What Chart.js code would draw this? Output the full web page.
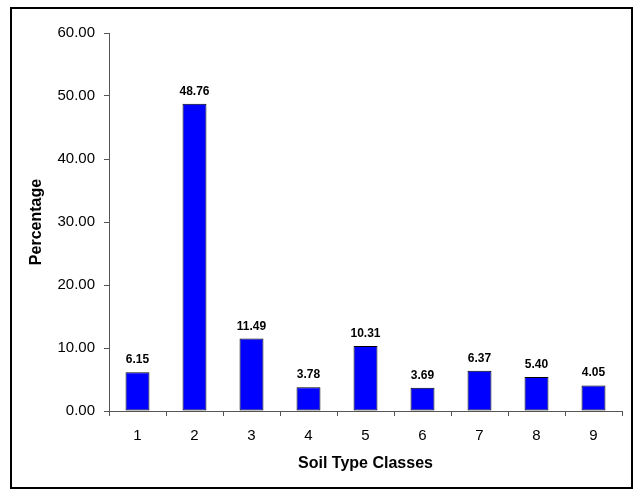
<!DOCTYPE html>
<html>
<head>
<meta charset="utf-8">
<script src="https://cdn.jsdelivr.net/npm/chart.js@4/dist/chart.umd.min.js"></script>
<style>
  html, body { margin: 0; padding: 0; background: #fff; }
  #wrap { width: 636px; height: 496px; }
</style>
</head>
<body>
<div id="wrap"><canvas id="myChart" width="636" height="496"></canvas></div>
<script>
'use strict';

// data
var classes = ['1', '2', '3', '4', '5', '6', '7', '8', '9'];
var percentages = [6.15, 48.76, 11.49, 3.78, 10.31, 3.69, 6.37, 5.40, 4.05];
var yTicks = [0, 10, 20, 30, 40, 50, 60];

var FONT = "'Liberation Sans', Arial, sans-serif";

// outer frame + white background
var framePlugin = {
    id: 'frame',
    beforeDraw: function (chart) {
        var ctx = chart.ctx;
        ctx.save();
        ctx.fillStyle = '#fff';
        ctx.fillRect(0, 0, chart.width, chart.height);
        ctx.lineWidth = 2;
        ctx.strokeStyle = '#000';
        ctx.strokeRect(11, 8, 621, 480);
        ctx.restore();
    }
};

// value labels above the bars
var valuePlugin = {
    id: 'values',
    afterDatasetsDraw: function (chart) {
        var ctx = chart.ctx;
        var meta = chart.getDatasetMeta(0);
        ctx.save();
        ctx.font = 'bold 12px ' + FONT;
        ctx.fillStyle = '#000';
        ctx.textAlign = 'center';
        ctx.textBaseline = 'alphabetic';
        meta.data.forEach(function (bar, i) {
            ctx.fillText(percentages[i].toFixed(2), bar.x, bar.y - 9);
        });
        ctx.restore();
    }
};

new Chart(document.getElementById('myChart'), {
    type: 'bar',
    data: {
        labels: classes,
        datasets: [{
            data: percentages,
            backgroundColor: '#0000ff',
            borderColor: '#000',
            borderWidth: 1,
            borderSkipped: false,
            barPercentage: 0.42,
            categoryPercentage: 1
        }]
    },
    options: {
        responsive: false,
        animation: false,
        devicePixelRatio: 1,
        layout: {
            padding: { left: 0, right: 14, top: 33, bottom: 0 }
        },
        plugins: {
            legend: { display: false },
            title: { display: false },
            tooltip: { enabled: false }
        },
        scales: {
            x: {
                offset: true,
                grid: {
                    display: true,
                    offset: true,
                    drawOnChartArea: false,
                    drawTicks: true,
                    tickLength: 5,
                    color: '#555'
                },
                border: { display: true, color: '#555', width: 1 },
                ticks: {
                    color: '#000',
                    font: { family: FONT, size: 15 },
                    padding: 11
                },
                title: {
                    display: true,
                    text: 'Soil Type Classes',
                    color: '#000',
                    font: { family: FONT, size: 16, weight: 'bold' },
                    padding: { top: 0, bottom: 23 }
                },
                afterFit: function (scale) { scale.height = 85; }
            },
            y: {
                min: 0,
                max: 60,
                afterBuildTicks: function (scale) {
                    scale.ticks = yTicks.map(function (v) { return { value: v }; });
                },
                grid: {
                    display: true,
                    drawOnChartArea: false,
                    drawTicks: true,
                    tickLength: 5,
                    color: '#555'
                },
                border: { display: true, color: '#555', width: 1 },
                ticks: {
                    color: '#000',
                    font: { family: FONT, size: 15 },
                    padding: 9,
                    callback: function (v) { return Number(v).toFixed(2); }
                },
                title: {
                    display: true,
                    text: 'Percentage',
                    color: '#000',
                    font: { family: FONT, size: 16, weight: 'bold' },
                    padding: { top: 27, bottom: 0 }
                },
                afterFit: function (scale) { scale.width = 109; }
            }
        }
    },
    plugins: [framePlugin, valuePlugin]
});
</script>
</body>
</html>
